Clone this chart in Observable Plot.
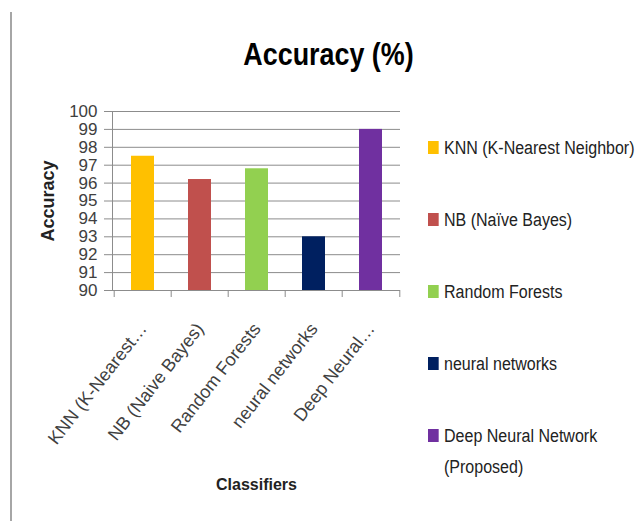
<!DOCTYPE html>
<html>
<head>
<meta charset="utf-8">
<script src="https://cdn.jsdelivr.net/npm/d3@7"></script>
<script src="https://cdn.jsdelivr.net/npm/@observablehq/plot@0.6"></script>
<style>
  body { margin: 0; background: #fff; }
  #chart {
    position: relative; width: 641px; height: 521px; overflow: hidden;
    font-family: "Liberation Sans", Arial, sans-serif;
  }
  #chart .edge { position: absolute; left: 10px; top: 12px; width: 2px; height: 509px; background: #a6a6a6; }
  #title {
    position: absolute; left: 0; top: 38px; width: 657px; text-align: center;
    font-size: 32px; font-weight: bold; line-height: 1; color: #000;
    transform: scaleX(0.84); transform-origin: 328.5px 0;
  }
  #plot { position: absolute; left: 0; top: 90px; }
  #legend { position: absolute; left: 428px; top: 0; transform: scaleX(0.89); transform-origin: 0 0; }
  #legend .item {
    position: absolute; left: 0; display: flex; align-items: flex-start;
    font-size: 18px; line-height: 31px; color: #222;
  }
  #legend .sw { flex: none; width: 12.4px; height: 13px; margin-top: 8px; margin-right: 5.6px; }
  #legend .txt { width: 220px; }
</style>
</head>
<body>
<div id="chart">
  <div class="edge"></div>
  <div id="title"></div>
  <div id="plot"></div>
  <div id="legend"></div>
</div>
<script>
// Classifier accuracy comparison
const chartTitle = "Accuracy (%)";
const yTitle = "Accuracy";
const xTitle = "Classifiers";
const categories = [
  "KNN (K-Nearest Neighbor)",
  "NB (Naïve Bayes)",
  "Random Forests",
  "neural networks",
  "Deep Neural Network (Proposed)"
];
const tickLabels = [
  "KNN (K-Nearest\u2026",
  "NB (Naive Bayes)",
  "Random Forests",
  "neural networks",
  "Deep Neural\u2026"
];
const accuracy = [97.5, 96.2, 96.8, 93.0, 99.0];
const colors = ["#FFC000", "#C0504D", "#92D050", "#002060", "#7030A0"];
const yTicks = [90, 91, 92, 93, 94, 95, 96, 97, 98, 99, 100];

const data = categories.map((name, i) => ({name, value: accuracy[i]}));
const labelOf = new Map(categories.map((c, i) => [c, tickLabels[i]]));

// layout
const W = 410, H = 410, mL = 112, mR = 10, mT = 21, mB = 210;
const half = (W - mL - mR) / categories.length / 2;
const axisColor = "#8c8c8c";
const textColor = "#404040";
const font = "'Liberation Sans', Arial, sans-serif";

document.getElementById("title").textContent = chartTitle;

const plot = Plot.plot({
  width: W, height: H,
  marginLeft: mL, marginRight: mR, marginTop: mT, marginBottom: mB,
  style: {fontFamily: font, fontSize: "16px", color: textColor, background: "transparent", overflow: "visible"},
  x: {domain: categories, paddingInner: 0.6, paddingOuter: 0.3, axis: null},
  y: {domain: [yTicks[0], yTicks[yTicks.length - 1]], axis: null},
  color: {domain: categories, range: colors},
  marks: [
    Plot.gridY(yTicks, {stroke: axisColor, strokeOpacity: 1}),
    Plot.frame({anchor: "left", stroke: axisColor}),
    Plot.ruleY([yTicks[0]], {stroke: axisColor}),
    Plot.axisY(yTicks, {tickSize: 8, tickPadding: 7, stroke: axisColor, strokeOpacity: 1, fill: textColor, fontSize: 17, label: null}),
    // category boundary ticks
    Plot.axisX({tickSize: 7, tickFormat: () => "", dx: -half, stroke: axisColor, strokeOpacity: 1, label: null}),
    Plot.axisX([categories[categories.length - 1]], {tickSize: 7, tickFormat: () => "", dx: half, stroke: axisColor, strokeOpacity: 1, label: null}),
    // rotated category labels
    Plot.axisX({tickSize: 0, tickPadding: 35, tickRotate: -52, tickFormat: d => labelOf.get(d), fontSize: 18, fill: textColor, label: null}),
    Plot.barY(data, {x: "name", y1: yTicks[0], y2: "value", fill: "name"}),
    Plot.text([yTitle], {text: d => d, frameAnchor: "left", textAnchor: "middle", lineAnchor: "middle", rotate: -90, dx: -64,
      fontWeight: "bold", fontSize: 18, fill: "#222"}),
    Plot.text([xTitle], {text: d => d, frameAnchor: "bottom", textAnchor: "middle", lineAnchor: "middle", dy: 194,
      fontWeight: "bold", fontSize: 16, fill: "#222"})
  ]
});
document.getElementById("plot").appendChild(plot);

// legend on the right
const legend = d3.select("#legend");
const itemTop = 133, itemStep = 72;
categories.forEach((c, i) => {
  const item = legend.append("div").attr("class", "item").style("top", (itemTop + i * itemStep) + "px");
  item.append("span").attr("class", "sw").style("background", colors[i]);
  item.append("span").attr("class", "txt").text(c);
});
</script>
</body>
</html>
